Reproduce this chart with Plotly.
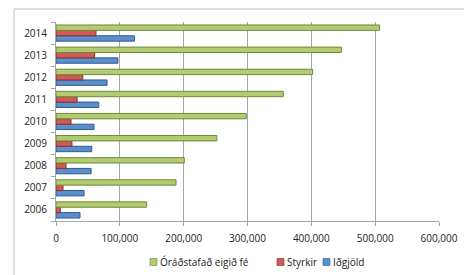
import plotly.graph_objects as go

years = ["2006", "2007", "2008", "2009", "2010", "2011", "2012", "2013", "2014"]
oradstafad = [142000, 188000, 201000, 252000, 298000, 356000, 402000, 447000, 507000]
styrkir = [6700, 11000, 15700, 25000, 23500, 33000, 42000, 60500, 62600]
idgjold = [37600, 44000, 55000, 56000, 59500, 67000, 80000, 97000, 123000]
x_ticks = [0, 100000, 200000, 300000, 400000, 500000, 600000]
x_tick_labels = ["0", "100,000", "200,000", "300,000", "400,000", "500,000", "600,000"]
series_names = ["Óráðstafað eigið fé", "Styrkir", "Iðgjöld"]
series_fill = ["#B3CC72", "#CF5A57", "#5B8FCC"]
series_line = ["#6C8A3A", "#8C2F2D", "#2F5C92"]

font = "Open Sans"
W, H = 464, 275
ML, MR, MT, MB = 56, 25, 22, 54
PW, PH = W - ML - MR, H - MT - MB


def px(xp):
    return (xp - ML) / PW


def py(yp):
    return (H - MB - yp) / PH


fig = go.Figure()
for vals, i in ((idgjold, 2), (styrkir, 1), (oradstafad, 0)):
    fig.add_trace(go.Bar(y=years, x=vals, orientation="h", name=series_names[i],
                         marker=dict(color=series_fill[i],
                                     line=dict(color=series_line[i], width=1)),
                         showlegend=False))

# custom compact legend
legend_sym_x = [150, 277, 323]
shapes = [dict(type="rect", xref="paper", yref="paper",
               x0=px(14), x1=px(470), y0=py(290), y1=py(9),
               line=dict(color="#BFBFBF", width=1), fillcolor="rgba(0,0,0,0)",
               layer="below")]
annotations = []
for i, name in enumerate(series_names):
    x0 = legend_sym_x[i]
    shapes.append(dict(type="rect", xref="paper", yref="paper",
                       x0=px(x0), x1=px(x0 + 7), y0=py(265.5), y1=py(258.5),
                       line=dict(color=series_line[i], width=0.6),
                       fillcolor=series_fill[i]))
    annotations.append(dict(xref="paper", yref="paper", x=px(x0 + 7.5), y=py(262),
                            xanchor="left", yanchor="middle", text=name,
                            showarrow=False, font=dict(size=10, family=font, color="#222222")))

fig.update_layout(
    width=W, height=H,
    margin=dict(l=ML, r=MR, t=MT, b=MB, autoexpand=False),
    paper_bgcolor="white", plot_bgcolor="white",
    barmode="group", bargap=0.27, bargroupgap=0,
    font=dict(family=font, size=10, color="#222222"),
    showlegend=False,
    xaxis=dict(range=[0, 600000], tickvals=x_ticks, ticktext=x_tick_labels,
               showgrid=True, gridcolor="#A6A6A6", gridwidth=1,
               showline=True, linecolor="#A6A6A6", linewidth=1,
               ticks="outside", ticklen=4, tickcolor="#A6A6A6",
               zeroline=False, fixedrange=True, ticklabelstandoff=4,
               automargin=False),
    yaxis=dict(type="category", categoryorder="array", categoryarray=years,
               showline=True, linecolor="#A6A6A6", linewidth=1,
               ticks="outside", ticklen=4, tickcolor="#A6A6A6",
               tickson="boundaries", showgrid=False, ticklabelstandoff=6,
               fixedrange=True, automargin=False),
    shapes=shapes,
    annotations=annotations,
)

fig.write_html("out.html", config={"displayModeBar": False},
               post_script="document.body.style.margin='0';document.body.style.overflow='hidden';")
